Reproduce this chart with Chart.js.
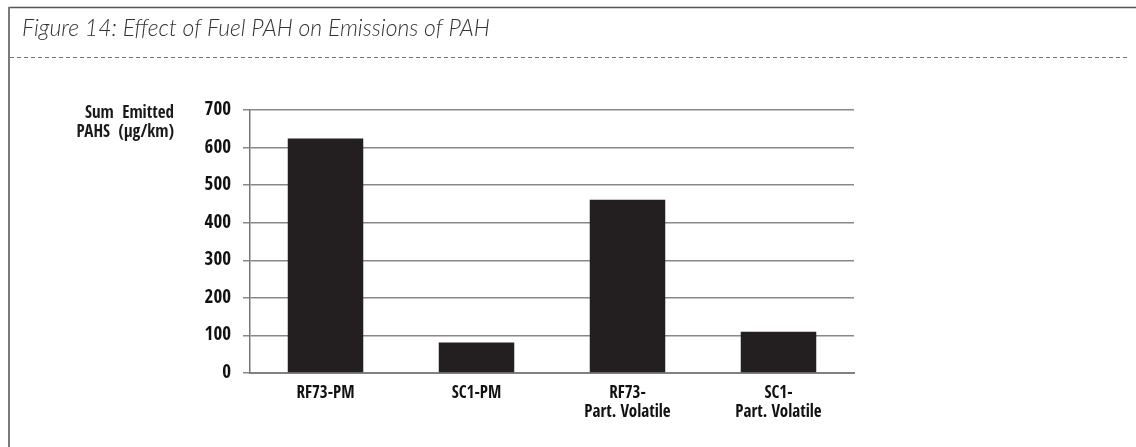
<!DOCTYPE html>
<html>
<head>
<meta charset="utf-8">
<script src="https://cdn.jsdelivr.net/npm/chart.js@4.4.1/dist/chart.umd.min.js"></script>
<style>
  html, body { margin: 0; padding: 0; background: #fff; }
  #wrap { position: relative; width: 1136px; height: 447px; }
  canvas { display: block; }
</style>
</head>
<body>
<div id="wrap"><canvas id="c" width="1136" height="447"></canvas></div>
<script>
// Fuel / fraction categories and summed PAH emissions (µg/km)
const categories = ["RF73-PM", "SC1-PM", ["RF73-", "Part. Volatile"], ["SC1-", "Part. Volatile"]];
const sumPAH = [624, 81, 461, 110];
const yTicks = [0, 100, 200, 300, 400, 500, 600, 700];

const figureTitle = "Figure 14: Effect of Fuel PAH on Emissions of PAH";
const yTitleLines = ["Sum  Emitted", "PAHS  (µg/km)"];

// condensed face for axis text
const NARROW = "'Open Sans Condensed', 'DejaVu Sans Condensed', 'DejaVu Sans', sans-serif";
const NARROW_STYLE = 'normal condensed';

// Frame, caption and axis caption drawn around the plot
const framePlugin = {
  id: 'frame',
  beforeDraw(chart) {
    const ctx = chart.ctx;
    ctx.save();
    // box edges (top and left)
    ctx.strokeStyle = '#555';
    ctx.lineWidth = 1.5;
    ctx.beginPath();
    ctx.moveTo(8.5, 7.5);
    ctx.lineTo(1136, 7.5);
    ctx.stroke();
    ctx.strokeStyle = '#7a7a7a';
    ctx.lineWidth = 2;
    ctx.beginPath();
    ctx.moveTo(9, 7);
    ctx.lineTo(9, 447);
    ctx.stroke();
    // dashed rule under the caption
    ctx.strokeStyle = '#777';
    ctx.lineWidth = 1;
    ctx.setLineDash([4, 3]);
    ctx.beginPath();
    ctx.moveTo(10, 57.5);
    ctx.lineTo(1128, 57.5);
    ctx.stroke();
    ctx.setLineDash([]);
    // caption
    ctx.fillStyle = '#333';
    ctx.textBaseline = 'alphabetic';
    ctx.textAlign = 'left';
    let size = 20;
    ctx.font = `italic 300 ${size}px Lato, 'Open Sans', sans-serif`;
    const w = ctx.measureText(figureTitle).width;
    size = size * 468 / w;
    ctx.font = `italic 300 ${size.toFixed(2)}px Lato, 'Open Sans', sans-serif`;
    ctx.fillText(figureTitle, 22, 36);
    // value-axis caption
    ctx.fillStyle = '#1a1a1a';
    ctx.textAlign = 'right';
    ctx.textBaseline = 'middle';
    ctx.font = `${NARROW_STYLE} bold 17px ${NARROW}`;
    ctx.fillText(yTitleLines[0], 174, 114);
    ctx.fillText(yTitleLines[1], 174, 133);
    ctx.restore();
  }
};

new Chart(document.getElementById('c'), {
  type: 'bar',
  data: {
    labels: categories,
    datasets: [{
      data: sumPAH,
      backgroundColor: '#231f20',
      borderWidth: 0,
      barPercentage: 0.5,
      categoryPercentage: 1.0
    }]
  },
  options: {
    responsive: false,
    animation: false,
    devicePixelRatio: 1,
    layout: { padding: { top: 110, right: 282, bottom: 0, left: 0 } },
    plugins: {
      legend: { display: false },
      tooltip: { enabled: false },
      title: { display: false }
    },
    scales: {
      x: {
        grid: { display: false, drawTicks: false },
        border: { display: true, color: '#808080', width: 2 },
        ticks: {
          color: '#111',
          padding: 11,
          maxRotation: 0,
          autoSkip: false,
          font: { family: NARROW, style: NARROW_STYLE, size: 17, weight: 'bold', lineHeight: 1.12 }
        },
        afterFit(scale) { scale.height = 74; }
      },
      y: {
        min: 0,
        max: 700,
        afterBuildTicks(scale) { scale.ticks = yTicks.map(v => ({ value: v })); },
        grid: {
          color: '#888',
          lineWidth: 1.5,
          tickLength: 7,
          drawTicks: true
        },
        border: { display: true, color: '#777', width: 1.5 },
        ticks: {
          color: '#111',
          padding: 12,
          font: { family: NARROW, style: NARROW_STYLE, size: 19, weight: 'bold' }
        },
        afterFit(scale) { scale.width = 250; }
      }
    }
  },
  plugins: [framePlugin]
});
</script>
</body>
</html>
